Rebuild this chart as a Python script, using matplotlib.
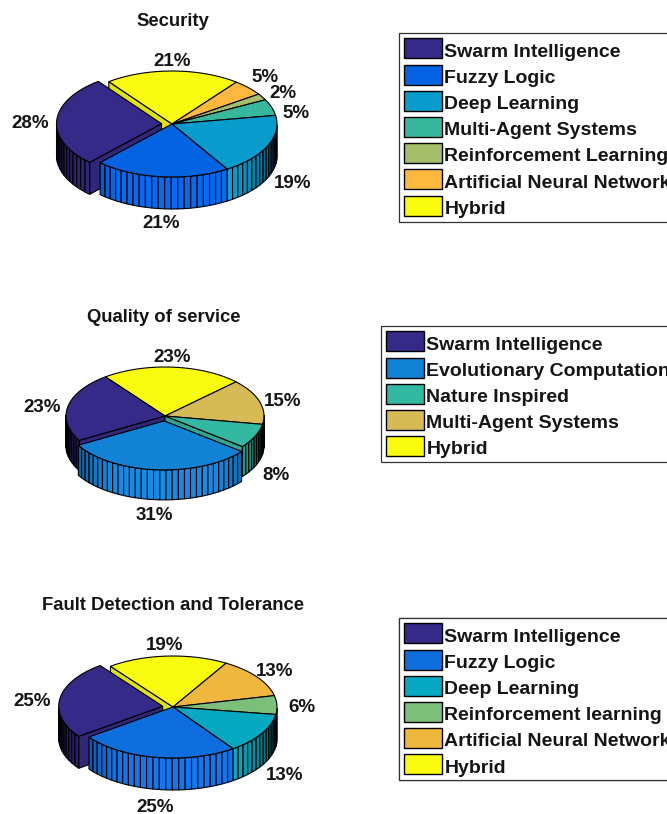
"""Three exploded 3D style pie charts with legends."""
import numpy as np
import matplotlib
matplotlib.use("Agg")
import matplotlib.pyplot as plt
from matplotlib.patches import Patch, Polygon
from matplotlib.colors import to_rgb

plt.rcParams["font.family"] = ["Liberation Sans", "DejaVu Sans"]

# data
security_names = ["Swarm Intelligence", "Fuzzy Logic", "Deep Learning", "Multi-Agent Systems",
                  "Reinforcement Learning", "Artificial Neural Networks", "Hybrid"]
security_values = [28, 21, 19, 5, 2, 5, 21]
security_colors = ["#352a87", "#0363e1", "#089ccd", "#37b89d", "#a5be6a", "#fdb83e", "#f9fb0e"]

quality_names = ["Swarm Intelligence", "Evolutionary Computation", "Nature Inspired",
                 "Multi-Agent Systems", "Hybrid"]
quality_values = [23, 31, 8, 15, 23]
quality_colors = ["#352a87", "#1282d4", "#33b8a1", "#d6ba54", "#f9fb0e"]

fault_names = ["Swarm Intelligence", "Fuzzy Logic", "Deep Learning", "Reinforcement learning",
               "Artificial Neural Networks", "Hybrid"]
fault_values = [25, 25, 13, 6, 13, 19]
fault_colors = ["#352a87", "#0f6edd", "#06a9c1", "#7cbf7b", "#f0b73f", "#f9fb0e"]

START = 127.0
TEXT = "#151515"


def shade(theta):
    """Darken the wall facets towards the sides of the pie."""
    off = abs((theta % 360) - 270)
    return float(np.clip(1.08 - max(off - 30, 0) / 60 * 0.7, 0.35, 1.08))


def wall(ax, pts, color, h, factor, z):
    x, y = pts[:, 0], pts[:, 1]
    poly = np.column_stack([np.r_[x, x[::-1]], np.r_[y, y[::-1] + h]])
    rgb = np.clip(np.array(to_rgb(color)) * factor, 0, 1)
    ax.add_patch(Polygon(poly, closed=True, fc=rgb, ec="black", lw=0.8, zorder=z))


def pie3(ax, values, colors, exploded, cx, cy, rx, ry, h):
    """Draw the slices from back to front."""
    fracs = np.array(values, dtype=float) / sum(values)
    edges = START + 360 * np.r_[0, np.cumsum(fracs)]
    slices = []
    for i, c in enumerate(colors):
        mid = np.radians((edges[i] + edges[i + 1]) / 2)
        k = 0.1 if i == exploded else 0.0
        ox = cx + k * rx * np.cos(mid)
        oy = cy - k * ry * np.sin(mid)
        slices.append((oy - 0.5 * ry * np.sin(mid), i, c, ox, oy))

    for z, (_, i, c, ox, oy) in enumerate(sorted(slices, key=lambda s: s[0])):
        base = 3 * z + 1
        a0, a1 = edges[i], edges[i + 1]
        n = max(int(np.ceil((a1 - a0) / 3.6)), 1)
        th = np.linspace(a0, a1, n + 1)
        px = ox + rx * np.cos(np.radians(th))
        py = oy - ry * np.sin(np.radians(th))

        # radial walls, only when they face the viewer
        if np.sin(np.radians(a0 - 90)) < 0:
            wall(ax, np.array([[ox, oy], [px[0], py[0]]]), c, h, 0.9, base)
        if np.sin(np.radians(a1 + 90)) < 0:
            wall(ax, np.array([[ox, oy], [px[-1], py[-1]]]), c, h, 0.9, base)

        # outer wall, one facet per step
        for j in range(n):
            m = (th[j] + th[j + 1]) / 2
            if np.sin(np.radians(m)) < 0:
                seg = np.array([[px[j], py[j]], [px[j + 1], py[j + 1]]])
                wall(ax, seg, c, h, shade(m), base + 1)

        top = np.column_stack([np.r_[ox, px], np.r_[oy, py]])
        ax.add_patch(Polygon(top, closed=True, fc=c, ec="black", lw=0.8, zorder=base + 2))


def add_legend(ax, names, colors, left, top):
    handles = [Patch(fc=c, ec="black", lw=1.0) for c in colors]
    leg = ax.legend(
        handles, names,
        loc="upper left",
        bbox_to_anchor=(left, top),
        bbox_transform=ax.transData,
        prop={"weight": "bold", "size": 14},
        labelcolor=TEXT,
        handlelength=1.93,
        handleheight=1.206,
        handletextpad=0.13,
        labelspacing=0.29,
        borderpad=0.28,
        borderaxespad=0,
        fancybox=False,
        framealpha=1,
        edgecolor="#333333",
    )
    leg.get_frame().set_linewidth(0.9)
    # nudge the labels down a little against the swatches
    for t in leg.get_texts():
        t.set_y(-1.5)
    ax.add_artist(leg)


fig = plt.figure(figsize=(6.67, 8.14), dpi=100)
ax = fig.add_axes([0, 0, 1, 1])
ax.set_xlim(0, 667)
ax.set_ylim(814, 0)
ax.axis("off")

panels = [
    ("Security", (173, 22), security_values, security_colors, security_names, 0,
     (172, 124, 105, 53, 32), (399, 33),
     [(30, 124), (161, 224), (293, 184), (296, 113), (283, 93), (265, 78), (172, 62)]),
    ("Quality of service", (164, 318), quality_values, quality_colors, quality_names, 1,
     (165, 416, 99, 49, 30), (381, 326),
     [(42, 408), (154, 516), (276, 476), (283, 402), (172, 358)]),
    ("Fault Detection and Tolerance", (173, 606), fault_values, fault_colors, fault_names, 0,
     (173, 707, 104, 51, 32), (399, 618),
     [(32, 702), (155, 807), (285, 775), (302, 707), (275, 671), (165, 646)]),
]

for title, title_xy, values, colors, names, exploded, geom, leg_xy, label_xy in panels:
    pie3(ax, values, colors, exploded, *geom)
    ax.text(*title_xy, title, ha="center", va="center", fontsize=13.3, fontweight="bold", color=TEXT)
    for v, (x, y) in zip(values, label_xy):
        ax.text(x, y, f"{v}%", ha="center", va="center", fontsize=13.5, fontweight="bold",
                color=TEXT, zorder=100)
    add_legend(ax, names, colors, *leg_xy)

fig.savefig("out.png", dpi=100)
